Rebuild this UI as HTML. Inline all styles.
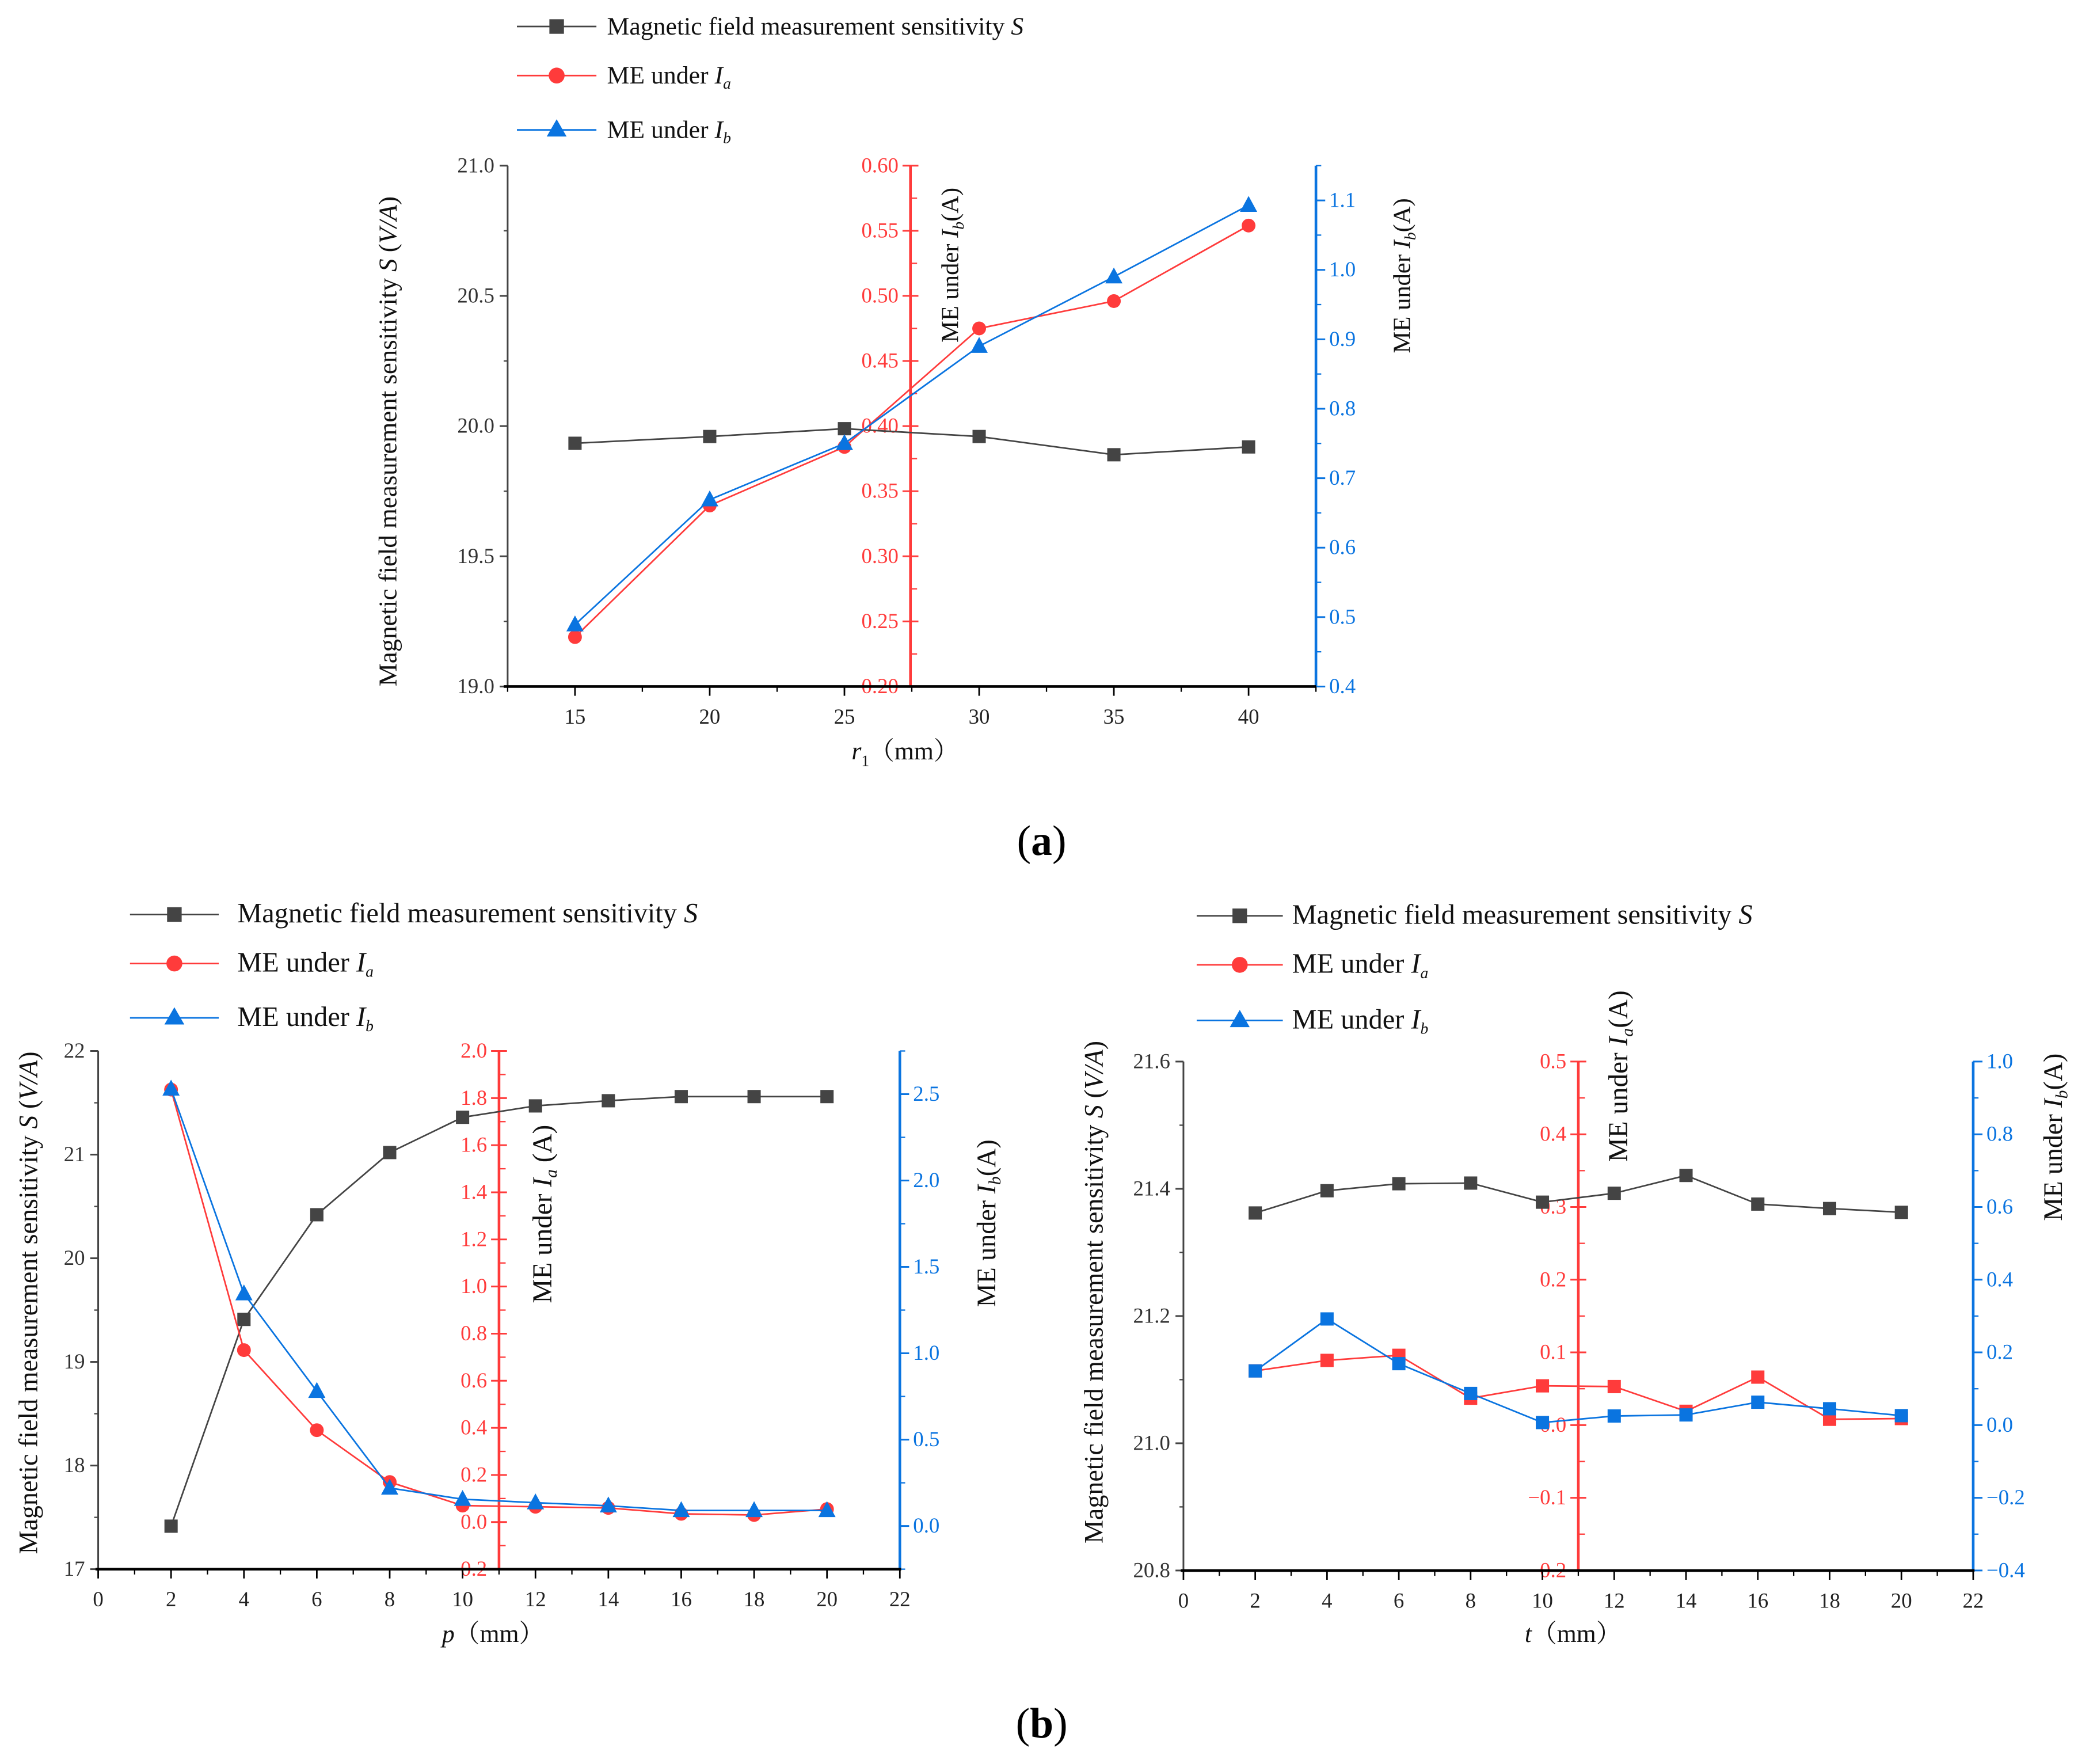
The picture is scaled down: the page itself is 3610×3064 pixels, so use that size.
<!DOCTYPE html>
<html><head><meta charset="utf-8"><style>
html,body{margin:0;padding:0;background:#fff;}
svg{display:block;}
text{font-family:"Liberation Serif","Noto Serif CJK SC",serif;}
</style></head><body>
<svg id="fig" xmlns="http://www.w3.org/2000/svg" width="3610" height="3064" viewBox="0 0 1568 1331">
<rect width="1568" height="1331" fill="#fff"/>
</svg>
<script>
// ---- data (a) ----
const aX = [15, 20, 25, 30, 35, 40];
const aS = [19.934, 19.96, 19.99, 19.96, 19.89, 19.92];
const aIa = [0.238, 0.339, 0.384, 0.475, 0.496, 0.554];
const aIb = [0.489, 0.669, 0.75, 0.89, 0.99, 1.093];
const aXTicks = ['15', '20', '25', '30', '35', '40'];
const aLTicks = ['19.0', '19.5', '20.0', '20.5', '21.0'];
const aRTicks = ['0.20', '0.25', '0.30', '0.35', '0.40', '0.45', '0.50', '0.55', '0.60'];
const aBTicks = ['0.4', '0.5', '0.6', '0.7', '0.8', '0.9', '1.0', '1.1'];
// ---- data (b) left ----
const bX = [2, 4, 6, 8, 10, 12, 14, 16, 18, 20];
const bS = [17.415, 19.41, 20.42, 21.02, 21.36, 21.47, 21.52, 21.56, 21.56, 21.56];
const bIa = [1.836, 0.73, 0.39, 0.17, 0.07, 0.065, 0.06, 0.035, 0.03, 0.055];
const bIb = [2.53, 1.345, 0.78, 0.22, 0.155, 0.135, 0.117, 0.09, 0.09, 0.09];
const bXTicks = ['0', '2', '4', '6', '8', '10', '12', '14', '16', '18', '20', '22'];
const bLTicks = ['17', '18', '19', '20', '21', '22'];
const bRTicks = ['-0.2', '0.0', '0.2', '0.4', '0.6', '0.8', '1.0', '1.2', '1.4', '1.6', '1.8', '2.0'];
const bBTicks = ['0.0', '0.5', '1.0', '1.5', '2.0', '2.5'];
// ---- data (b) right ----
const cX = [2, 4, 6, 8, 10, 12, 14, 16, 18, 20];
const cS = [21.362, 21.397, 21.408, 21.409, 21.379, 21.393, 21.421, 21.376, 21.369, 21.363];
const cIa = [0.0746, 0.089, 0.096, 0.037, 0.054, 0.053, 0.019, 0.066, 0.008, 0.009];
const cIb = [0.149, 0.292, 0.169, 0.087, 0.007, 0.025, 0.028, 0.063, 0.045, 0.026];
const cXTicks = ['0', '2', '4', '6', '8', '10', '12', '14', '16', '18', '20', '22'];
const cLTicks = ['20.8', '21.0', '21.2', '21.4', '21.6'];
const cRTicks = ['-0.2', '-0.1', '0.0', '0.1', '0.2', '0.3', '0.4', '0.5'];
const cBTicks = ['-0.4', '-0.2', '0.0', '0.2', '0.4', '0.6', '0.8', '1.0'];

const NS = 'http://www.w3.org/2000/svg';
const svg = document.getElementById('fig');
const GREY = '#444', RED = '#ff3b3b', BLUE = '#0a74e0';

function mk(tag, attrs, parent) {
  const e = document.createElementNS(NS, tag);
  for (const k in attrs) e.setAttribute(k, attrs[k]);
  (parent || svg).appendChild(e);
  return e;
}
function lin(d0, d1, p0, p1) { return v => p0 + (v - d0) * (p1 - p0) / (d1 - d0); }

function xAxis(g, sx, y, x0, x1, labels, minorStart, minorStep, xmax) {
  const l = mk('line', {x1: x0, y1: y, x2: x1, y2: y, stroke: '#000', 'stroke-width': 2}, g);
  
  
  for (let v = minorStart; v <= xmax + 1e-9; v += minorStep) {
    const t = mk('line', {x1: sx(v), y1: y, x2: sx(v), y2: y + 4, stroke: '#000', 'stroke-width': 1}, g);
    
    
  }
  labels.forEach(s => {
    const v = parseFloat(s);
    const t = mk('line', {x1: sx(v), y1: y, x2: sx(v), y2: y + 7, stroke: '#000', 'stroke-width': 1.2}, g);
    
    
    const tx = mk('text', {x: sx(v), y: y + 28, 'text-anchor': 'middle', 'font-size': 16, fill: '#222'}, g);
    tx.textContent = s;
    
    
  });
}

function yAxis(g, x, sy, vmin, vmax, labels, minorStep, minorStart, mode, color) {
  const l = mk('line', {x1: x, y1: sy(vmin), x2: x, y2: sy(vmax), stroke: color, 'stroke-width': mode === 'left' ? 1.3 : 2}, g);
  
  
  for (let v = minorStart; v <= vmax + 1e-9; v += minorStep) {
    let a = x, b = x;
    if (mode === 'left') { a = x - 3; } else if (mode === 'mid') { b = x + 5; } else { b = x + 4; }
    const t = mk('line', {x1: a, y1: sy(v), x2: b, y2: sy(v), stroke: color, 'stroke-width': 1}, g);
    
    
  }
  labels.forEach(s => {
    const v = parseFloat(s);
    let a = x, b = x, lx, anchor;
    if (mode === 'left') { a = x - 6; lx = x - 10; anchor = 'end'; }
    else if (mode === 'mid') { a = x - 6; b = x + 6; lx = x - 9; anchor = 'end'; }
    else { b = x + 7; lx = x + 10; anchor = 'start'; }
    const t = mk('line', {x1: a, y1: sy(v), x2: b, y2: sy(v), stroke: color, 'stroke-width': 1.3}, g);
    
    
    const tx = mk('text', {x: lx, y: sy(v) + 5, 'text-anchor': anchor, 'font-size': 16, fill: mode === 'left' ? '#333' : color}, g);
    tx.textContent = s.replace('-', '\u2212');
    
    
  });
}

function series(g, xs, ys, sx, sy, color, marker, name) {
  const pts = xs.map((x, i) => sx(x).toFixed(2) + ',' + sy(ys[i]).toFixed(2)).join(' ');
  const pl = mk('polyline', {points: pts, fill: 'none', stroke: color, 'stroke-width': 1.2}, g);
  
  
  xs.forEach((x, i) => {
    const px = sx(x), py = sy(ys[i]);
    let m;
    if (marker === 'square') m = mk('rect', {x: px - 5, y: py - 5, width: 10, height: 10, fill: color}, g);
    else if (marker === 'circle') m = mk('circle', {cx: px, cy: py, r: 5.2, fill: color}, g);
    else m = mk('polygon', {points: `${px},${py - 7} ${px - 6.5},${py + 5} ${px + 6.5},${py + 5}`, fill: color}, g);
    
    
  });
}

function vtitle(g, x, y, parts, size, name) {
  const t = mk('text', {x: x, y: y, 'text-anchor': 'middle', 'font-size': size, fill: '#111', transform: `rotate(-90 ${x} ${y})`}, g);
  t.innerHTML = parts;
  
  
}

function legend(g, x0, x1, ys, tx, size) {
  const defs = [
    ['square', GREY, 'Magnetic field measurement sensitivity <tspan font-style="italic">S</tspan>', 'legend-entry-sensitivity'],
    ['circle', RED, 'ME under <tspan font-style="italic">I</tspan><tspan font-style="italic" font-size="12" dy="4">a</tspan>', 'legend-entry-me-ia'],
    ['tri', BLUE, 'ME under <tspan font-style="italic">I</tspan><tspan font-style="italic" font-size="12" dy="4">b</tspan>', 'legend-entry-me-ib']
  ];
  defs.forEach((d, i) => {
    const y = ys[i];
    const grp = mk('g', {}, g);
    
    
    mk('line', {x1: x0, y1: y, x2: x1, y2: y, stroke: d[1], 'stroke-width': 1.2}, grp);
    const cx = (x0 + x1) / 2;
    if (d[0] === 'square') mk('rect', {x: cx - 5.5, y: y - 5.5, width: 11, height: 11, fill: d[1]}, grp);
    else if (d[0] === 'circle') mk('circle', {cx: cx, cy: y, r: 6, fill: d[1]}, grp);
    else mk('polygon', {points: `${cx},${y - 8} ${cx - 7.5},${y + 5} ${cx + 7.5},${y + 5}`, fill: d[1]}, grp);
    const t = mk('text', {x: tx, y: y + 6, 'font-size': size, fill: '#111'}, grp);
    t.innerHTML = d[2];
  });
}

// ================= (a) =================
(function () {
  const g = mk('g', {});
  
  
  const sx = lin(12.5, 42.5, 383, 993);
  const sL = lin(19, 21, 518, 125);
  const sR = lin(0.2, 0.6, 518, 125);
  const sB = lin(0.4, 1.15, 518, 125);
  yAxis(g, 383, sL, 19, 21, aLTicks, 0.25, 19, 'left', GREY);
  yAxis(g, 687, sR, 0.2, 0.6, aRTicks, 0.025, 0.2, 'mid', RED);
  yAxis(g, 993, sB, 0.4, 1.15, aBTicks, 0.05, 0.4, 'right', BLUE);
  xAxis(g, sx, 518, 380, 993, aXTicks, 12.5, 2.5, 42.5);
  series(g, aX, aS, sx, sL, GREY, 'square', 'sensitivity-a');
  series(g, aX, aIa, sx, sR, RED, 'circle', 'me-ia-a');
  series(g, aX, aIb, sx, sB, BLUE, 'tri', 'me-ib-a');
  vtitle(g, 299, 333, 'Magnetic field measurement sensitivity <tspan font-style="italic">S</tspan> (<tspan font-style="italic">V/A</tspan>)', 19.5, 'y-axis-title-left-a');
  vtitle(g, 723, 200, 'ME under <tspan font-style="italic">I</tspan><tspan font-style="italic" font-size="12" dy="4">b</tspan><tspan dy="-4">(A)</tspan>', 18.5, 'y-axis-title-red-a');
  vtitle(g, 1064, 208, 'ME under <tspan font-style="italic">I</tspan><tspan font-style="italic" font-size="12" dy="4">b</tspan><tspan dy="-4">(A)</tspan>', 18.5, 'y-axis-title-blue-a');
  const xl = mk('text', {x: 683, y: 573, 'text-anchor': 'middle', 'font-size': 19, fill: '#111'}, g);
  xl.innerHTML = '<tspan font-style="italic">r</tspan><tspan font-size="12" dy="5">1</tspan><tspan dy="-5">（mm）</tspan>';
  
  
  legend(g, 390, 450, [20, 57, 98], 458, 19);
  const lab = mk('text', {x: 786, y: 645, 'text-anchor': 'middle', 'font-size': 32, fill: '#000'}, g);
  lab.innerHTML = '(<tspan font-weight="bold">a</tspan>)';
  
  
})();

// ================= (b) left =================
(function () {
  const g = mk('g', {});
  
  
  const sx = lin(0, 22, 74, 679);
  const sL = lin(17, 22, 1184, 793);
  const sR = lin(-0.2, 2.0, 1184, 793);
  const sB = lin(-0.25, 2.75, 1184, 793);
  yAxis(g, 74, sL, 17, 22, bLTicks, 0.5, 17, 'left', GREY);
  yAxis(g, 376.5, sR, -0.2, 2.0, bRTicks, 0.1, -0.2, 'mid', RED);
  yAxis(g, 679, sB, -0.25, 2.75, bBTicks, 0.25, -0.25, 'right', BLUE);
  xAxis(g, sx, 1184, 72, 680, bXTicks, 0, 1, 22);
  series(g, bX, bS, sx, sL, GREY, 'square', 'sensitivity-b');
  series(g, bX, bIa, sx, sR, RED, 'circle', 'me-ia-b');
  series(g, bX, bIb, sx, sB, BLUE, 'tri', 'me-ib-b');
  vtitle(g, 28, 983, 'Magnetic field measurement sensitivity <tspan font-style="italic">S</tspan> (<tspan font-style="italic">V/A</tspan>)', 20, 'y-axis-title-left-b');
  vtitle(g, 416, 916, 'ME under <tspan font-style="italic">I</tspan><tspan font-style="italic" font-size="13" dy="4">a</tspan><tspan dy="-4"> (A)</tspan>', 20.5, 'y-axis-title-red-b');
  vtitle(g, 751, 923, 'ME under <tspan font-style="italic">I</tspan><tspan font-style="italic" font-size="13" dy="4">b</tspan><tspan dy="-4">(A)</tspan>', 20, 'y-axis-title-blue-b');
  const xl = mk('text', {x: 372, y: 1239, 'text-anchor': 'middle', 'font-size': 19, fill: '#111'}, g);
  xl.innerHTML = '<tspan font-style="italic">p</tspan>（mm）';
  
  
  legend(g, 98, 165, [690, 727, 768], 179, 21);
})();

// ================= (b) right =================
(function () {
  const g = mk('g', {});
  
  
  const sx = lin(0, 22, 893, 1489);
  const sL = lin(20.8, 21.6, 1185, 801);
  const sR = lin(-0.2, 0.5, 1185, 801);
  const sB = lin(-0.4, 1.0, 1185, 801);
  yAxis(g, 893, sL, 20.8, 21.6, cLTicks, 0.1, 20.8, 'left', GREY);
  yAxis(g, 1191, sR, -0.2, 0.5, cRTicks, 0.05, -0.2, 'mid', RED);
  yAxis(g, 1489, sB, -0.4, 1.0, cBTicks, 0.1, -0.4, 'right', BLUE);
  xAxis(g, sx, 1185, 891, 1490, cXTicks, 0, 1, 22);
  series(g, cX, cS, sx, sL, GREY, 'square', 'sensitivity-c');
  series(g, cX, cIa, sx, sR, RED, 'square', 'me-ia-c');
  series(g, cX, cIb, sx, sB, BLUE, 'square', 'me-ib-c');
  vtitle(g, 832, 975, 'Magnetic field measurement sensitivity <tspan font-style="italic">S</tspan> (<tspan font-style="italic">V/A</tspan>)', 20, 'y-axis-title-left-c');
  vtitle(g, 1228, 812, 'ME under <tspan font-style="italic">I</tspan><tspan font-style="italic" font-size="13" dy="4">a</tspan><tspan dy="-4">(A)</tspan>', 20.5, 'y-axis-title-red-c');
  vtitle(g, 1556, 858, 'ME under <tspan font-style="italic">I</tspan><tspan font-style="italic" font-size="13" dy="4">b</tspan><tspan dy="-4">(A)</tspan>', 20, 'y-axis-title-blue-c');
  const xl = mk('text', {x: 1187, y: 1239, 'text-anchor': 'middle', 'font-size': 19, fill: '#111'}, g);
  xl.innerHTML = '<tspan font-style="italic">t</tspan>（mm）';
  
  
  legend(g, 903, 968, [691, 728, 770], 975, 21);
  const lab = mk('text', {x: 786, y: 1311, 'text-anchor': 'middle', 'font-size': 32, fill: '#000'}, g);
  lab.innerHTML = '(<tspan font-weight="bold">b</tspan>)';
  
  
})();
</script>
</body></html>
